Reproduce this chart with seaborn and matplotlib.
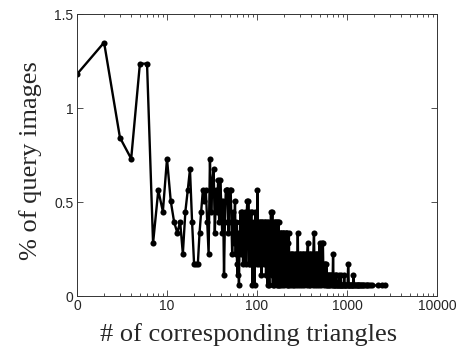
import numpy as np
import pandas as pd
import matplotlib
matplotlib.use("Agg")
import matplotlib.pyplot as plt
import seaborn as sns
from matplotlib.ticker import LogLocator, NullFormatter, FixedLocator

# number of corresponding triangles (plotted position; "0" sits at 1)
x_low = list(range(1, 103))
x_100s = [104, 106, 108, 110, 112, 114, 116, 118, 120, 122, 124, 126, 128, 130,
          131, 133, 135, 137, 139, 141, 143, 145, 147, 148, 150,
          153, 156, 159, 162, 164, 166, 168, 170, 172, 174, 176,
          178, 181, 184, 187, 190, 193, 196, 199, 202, 205, 208, 211, 214, 217,
          220, 223, 226, 229]
x_200s = [232, 236, 240, 244, 248, 252, 256, 260, 264, 268, 272, 276, 280, 284,
          288, 292, 297, 302, 307, 312, 317, 322, 327, 332, 338, 344, 350, 356,
          362, 368, 374, 380, 386, 393, 400, 407, 414, 422, 430, 438, 446, 454,
          462, 470, 478, 486, 495, 504, 513, 522, 531, 540, 549, 558, 568, 578, 588]
x_high = [598, 606, 614, 622, 630, 638, 646, 655, 664, 673, 682, 691, 700, 709,
          718, 728, 738, 748, 760, 772, 784, 796, 808, 820, 833, 846, 850, 862,
          876, 890, 905, 920, 930, 945, 962, 980, 998, 1015, 1030, 1048, 1066,
          1085, 1105, 1125, 1145, 1165, 1180, 1200, 1225, 1250, 1280, 1310, 1340,
          1370, 1400, 1440, 1480, 1520, 1560, 1610, 1660, 1720, 1800, 1900, 2230,
          2420, 2640]

# number of query images at each position
c_low = [21, 24, 15, 13, 22, 22, 5, 10, 8, 13,
         9, 7, 6, 7, 4, 8, 10, 12, 7, 3,
         3, 3, 6, 8, 10, 9, 10, 7, 4, 13,
         8, 11, 12, 6, 10, 8, 11, 7, 11, 9,
         6, 9, 2, 7, 10, 10, 10, 6, 9, 10,
         10, 7, 4, 8, 5, 7, 9, 4, 7, 3,
         2, 6, 1, 5, 7, 8, 4, 7, 8, 3,
         7, 5, 8, 7, 3, 6, 8, 9, 5, 9,
         3, 8, 6, 3, 7, 8, 8, 4, 1, 6,
         3, 7, 5, 1, 7, 8, 4, 7, 3, 7,
         10, 5]
c_100s = [7, 3, 7, 7, 2, 7, 5, 7, 3, 7, 7, 2, 6, 7,
          1, 7, 4, 1, 7, 3, 8, 2, 7, 8, 1,
          7, 1, 7, 2, 7, 1, 7, 7, 1, 7, 1,
          6, 1, 6, 6, 1, 6, 6, 1, 6, 2, 6, 6, 1, 6,
          5, 1, 6, 1]
c_200s = [4, 1, 4, 4, 1, 4, 3, 1, 4, 4, 1, 4, 2, 6,
          1, 4, 4, 1, 4, 3, 1, 4, 4, 1, 4, 2, 4, 1,
          4, 5, 1, 4, 4, 1, 4, 3, 1, 4, 6, 1, 4, 4,
          1, 4, 4, 1, 5, 4, 1, 3, 5, 5, 1, 3, 3, 1, 3]
c_high = [2, 1, 2, 1, 2, 1, 2, 1, 2, 1, 2, 1, 4, 1,
          2, 1, 1, 2, 2, 1, 1, 1, 1, 2, 1, 1, 2, 1,
          1, 1, 1, 1, 2, 1, 1, 1, 1, 1, 3, 1, 1,
          1, 1, 1, 1, 1, 2, 1, 1, 1, 1, 1, 1,
          1, 1, 1, 1, 1, 1, 1, 1, 1, 1, 1, 1,
          1, 1]

N_QUERIES = 1780  # total query images (percent = 100 * count / N)

x_tick_pos = [1, 10, 100, 1000, 10000]
x_tick_labels = ["0", "10", "100", "1000", "10000"]
y_tick_pos = [0, 0.5, 1, 1.5]
y_tick_labels = ["0", "0.5", "1", "1.5"]

df = pd.DataFrame({"x": x_low + x_100s + x_200s + x_high,
                   "count": c_low + c_100s + c_200s + c_high})
df["pct"] = 100.0 * df["count"] / N_QUERIES

sns.set_style("ticks")
plt.rcParams["font.family"] = ["Liberation Sans", "DejaVu Sans"]

fig = plt.figure(figsize=(4.57, 3.47), dpi=100)
ax = fig.add_axes([77 / 457, 1 - 296 / 347, 360 / 457, 282 / 347])

sns.lineplot(data=df, x="x", y="pct", color="black", marker="o",
             markersize=4.4, markeredgewidth=0, linewidth=1.7,
             estimator=None, sort=False, ax=ax)

ax.set_xscale("log")
ax.set_xlim(1, 10000)
ax.set_ylim(0, 1.5)
ax.xaxis.set_major_locator(FixedLocator(x_tick_pos))
ax.set_xticklabels(x_tick_labels)
ax.xaxis.set_minor_locator(LogLocator(base=10, subs=np.arange(2, 10)))
ax.xaxis.set_minor_formatter(NullFormatter())
ax.set_yticks(y_tick_pos)
ax.set_yticklabels(y_tick_labels)

ax.tick_params(which="both", direction="in", top=True, right=True,
               color="#333333", width=0.6)
ax.tick_params(which="major", length=4, pad=2.5, labelsize=10)
ax.tick_params(which="minor", length=2)
for s in ax.spines.values():
    s.set_visible(True)
    s.set_linewidth(0.7)
    s.set_color("#333333")

serif = ["Liberation Serif", "DejaVu Serif"]
ax.set_xlabel("# of corresponding triangles", fontsize=19, family=serif)
ax.set_ylabel("% of query images", fontsize=19, family=serif)
ax.xaxis.set_label_coords(0.477, -0.097)
ax.yaxis.set_label_coords(-0.098, 0.479)

fig.savefig("out.png", dpi=100)
